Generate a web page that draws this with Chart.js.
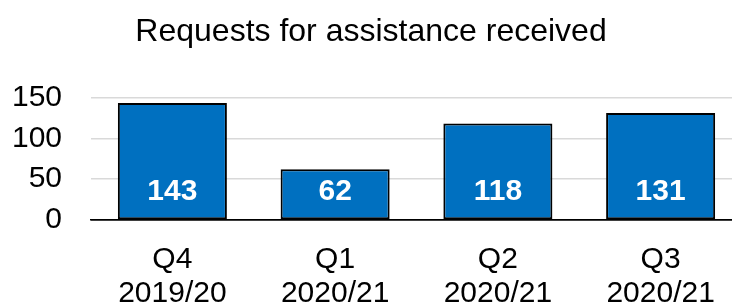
<!DOCTYPE html>
<html>
<head>
<meta charset="utf-8">
<script src="https://cdn.jsdelivr.net/npm/chart.js@4"></script>
<style>
  body { margin: 0; overflow: hidden; background: #fff; }
</style>
</head>
<body>
<canvas id="requestsChart" width="742" height="307"></canvas>
<script>
// ====== Data ======
const quarters = [['Q4', '2019/20'], ['Q1', '2020/21'], ['Q2', '2020/21'], ['Q3', '2020/21']];
const requests = [143, 62, 118, 131];
const yTicks = [0, 50, 100, 150];

const FONT = "'Liberation Sans', Arial, sans-serif";

// value labels near the base of each bar
const barLabels = {
  id: 'barLabels',
  afterDatasetsDraw(chart) {
    const c = chart.ctx;
    c.save();
    c.fillStyle = '#fff';
    c.font = 'bold 30px ' + FONT;
    c.textAlign = 'center';
    c.textBaseline = 'middle';
    chart.getDatasetMeta(0).data.forEach((bar, i) => {
      c.fillText(requests[i], bar.x, bar.base - 28);
    });
    c.restore();
  }
};

const ctx = document.getElementById('requestsChart').getContext('2d');
const requestsChart = new Chart(ctx, {
  type: 'bar',
  data: {
    labels: quarters,
    datasets: [{
      data: requests,
      backgroundColor: '#0070C0',
      borderColor: '#000',
      borderWidth: 2,
      borderSkipped: false,
      categoryPercentage: 1,
      barPercentage: 0.67
    }]
  },
  options: {
    responsive: false,
    animation: false,
    layout: { padding: { top: 13, bottom: 0, left: 0, right: 0 } },
    plugins: {
      legend: { display: false },
      tooltip: { enabled: false },
      title: {
        display: true,
        text: 'Requests for assistance received',
        color: '#000',
        font: { family: FONT, size: 32, weight: 'normal', lineHeight: 1.2 },
        padding: { top: 0, bottom: 46 }
      }
    },
    scales: {
      x: {
        grid: { display: false },
        border: { color: '#000', width: 1.5 },
        afterFit(axis) { axis.height = 87; },
        ticks: {
          color: '#000',
          padding: 15,
          maxRotation: 0,
          font: { family: FONT, size: 30, lineHeight: 1.12 }
        }
      },
      y: {
        min: 0,
        max: 150,
        afterBuildTicks(axis) { axis.ticks = yTicks.map(v => ({ value: v })); },
        afterFit(axis) { axis.width = 91; },
        border: { display: false },
        grid: {
          drawTicks: false,
          lineWidth: 1.5,
          color: c => c.tick && c.tick.value === 0 ? '#000' : '#d9d9d9'
        },
        ticks: {
          color: '#000',
          padding: 29,
          autoSkip: false,
          font: { family: FONT, size: 30, lineHeight: 1.2 }
        }
      }
    }
  },
  plugins: [barLabels]
});
</script>
</body>
</html>
